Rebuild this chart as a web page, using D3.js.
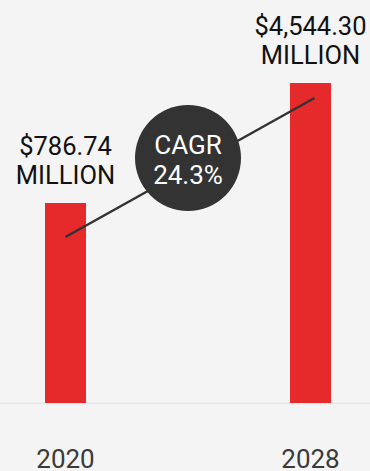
<!DOCTYPE html>
<html>
<head>
<meta charset="utf-8">
<script src="https://cdn.jsdelivr.net/npm/d3@7"></script>
<style>
  html, body { margin: 0; padding: 0; background: #f4f4f4; }
  svg { display: block; font-family: Roboto, "Noto Sans", sans-serif; }
</style>
</head>
<body>
<svg id="chart" width="370" height="471"></svg>
<script>
var years = ["2020", "2028"];
var values = [786.74, 4544.30];
var valueLabels = ["$786.74", "$4,544.30"];
var unitLabel = "MILLION";
var cagrLabel = ["CAGR", "24.3%"];

(function marketChart() {
    var svg = d3.select("#chart"),
        width = +svg.attr("width"),
        height = +svg.attr("height");

    var data = years.map(function(y, i) {
        return { year: y, value: values[i], label: valueLabels[i] };
    });

    var x = d3.scalePoint()
              .domain(years)
              .range([65.5, 310.5]);

    // stylised, non-zero baseline like the original graphic
    var y = d3.scaleLinear()
              .domain([-5475, 4544.3])
              .range([403, 83]);

    var barWidth = 41;

    svg.append("rect")
       .attr("width", width)
       .attr("height", height)
       .attr("fill", "#f4f4f4");

    // baseline
    svg.append("line")
       .attr("x1", 0).attr("x2", width)
       .attr("y1", y(-5475) + 0.5).attr("y2", y(-5475) + 0.5)
       .attr("stroke", "#e6e6e6")
       .attr("stroke-width", 1.5);

    svg.selectAll(".bar")
       .data(data)
       .enter().append("rect")
       .attr("class", "bar")
       .attr("x", function(d) { return x(d.year) - barWidth / 2; })
       .attr("y", function(d) { return y(d.value); })
       .attr("width", barWidth)
       .attr("height", function(d) { return y(-5475) - y(d.value); })
       .attr("fill", "#e6292b");

    // value labels
    var lab = svg.selectAll(".lab")
                 .data(data)
                 .enter().append("g")
                 .attr("class", "lab")
                 .attr("transform", function(d) {
                     return "translate(" + x(d.year) + "," + y(d.value) + ")";
                 });

    lab.append("text")
       .attr("y", -48)
       .attr("text-anchor", "middle")
       .style("font-size", "25.5px")
       .attr("fill", "#111")
       .text(function(d) { return d.label; });

    lab.append("text")
       .attr("y", -19)
       .attr("text-anchor", "middle")
       .style("font-size", "25.5px")
       .attr("fill", "#111")
       .text(unitLabel);

    // growth line
    var p0 = [x(years[0]), y(values[0]) + 34],
        p1 = [x(years[1]) + 4, y(values[1]) + 15];

    svg.append("line")
       .attr("x1", p0[0]).attr("y1", p0[1])
       .attr("x2", p1[0]).attr("y2", p1[1])
       .attr("stroke", "#333")
       .attr("stroke-width", 2.5);

    // CAGR bubble
    var cx = 188, cy = 158;
    svg.append("circle")
       .attr("cx", cx).attr("cy", cy)
       .attr("r", 53)
       .attr("fill", "#333");

    svg.selectAll(".cagr")
       .data(cagrLabel)
       .enter().append("text")
       .attr("class", "cagr")
       .attr("x", cx)
       .attr("y", function(d, i) { return 154 + i * 30; })
       .attr("text-anchor", "middle")
       .style("font-size", "26px")
       .attr("fill", "#fff")
       .text(function(d) { return d; });

    // year labels
    svg.selectAll(".year")
       .data(years)
       .enter().append("text")
       .attr("class", "year")
       .attr("x", function(d) { return x(d); })
       .attr("y", 468)
       .attr("text-anchor", "middle")
       .style("font-size", "26px")
       .attr("fill", "#3a3a3a")
       .text(function(d) { return d; });
}());
</script>
</body>
</html>
